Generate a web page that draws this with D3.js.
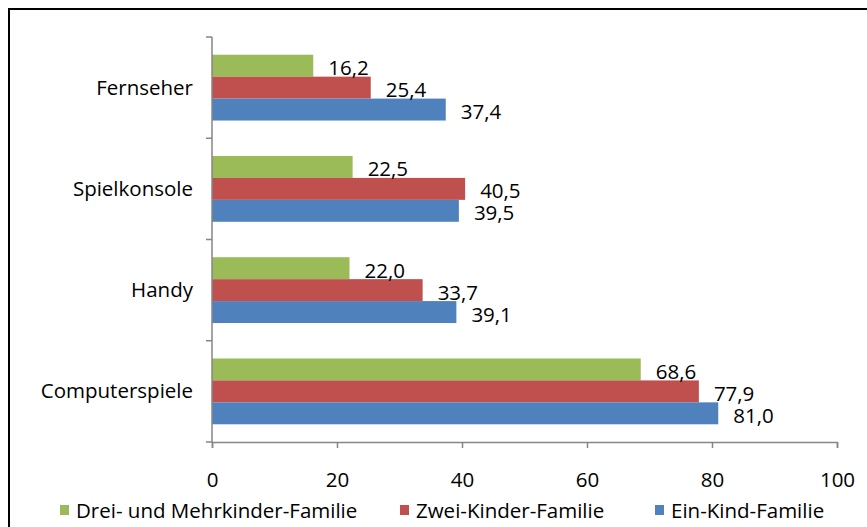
<!DOCTYPE html>
<html>
<head>
<meta charset="utf-8">
<script src="https://cdn.jsdelivr.net/npm/d3@7"></script>
<style>
  html, body { margin: 0; padding: 0; background: #fff; }
  svg { display: block; }
  text { font-family: "Open Sans", sans-serif; fill: #000; }
</style>
</head>
<body>
<svg id="chart" width="867" height="527"></svg>
<script>
// ---- data ----
const categories = ["Fernseher", "Spielkonsole", "Handy", "Computerspiele"];
const seriesNames = ["Drei- und Mehrkinder-Familie", "Zwei-Kinder-Familie", "Ein-Kind-Familie"];
const seriesColors = ["#9BBB59", "#C0504D", "#4F81BD"];
const dreiValues = [16.2, 22.5, 22.0, 68.6];
const zweiValues = [25.4, 40.5, 33.7, 77.9];
const einValues  = [37.4, 39.5, 39.1, 81.0];
const xTicks = [0, 20, 40, 60, 80, 100];

const seriesValues = [dreiValues, zweiValues, einValues];

const svg = d3.select("#chart");
const fontSize = 20.5;
const fontFam = "'Open Sans', sans-serif";

// frame
svg.append("rect")
  .attr("x", 9).attr("y", 9)
  .attr("width", 900).attr("height", 600)
  .attr("fill", "none").attr("stroke", "#000").attr("stroke-width", 2);

const x = d3.scaleLinear().domain([0, 100]).range([212, 837]);
const y = d3.scaleBand().domain(categories).range([37, 442]).paddingInner(0.35).paddingOuter(0.175);
const ySub = d3.scaleBand().domain(d3.range(seriesNames.length)).range([0, y.bandwidth()]);

// bars
const rows = [];
categories.forEach((c, ci) => {
  seriesValues.forEach((vals, si) => rows.push({ c, si, v: vals[ci] }));
});

svg.append("g").selectAll("rect")
  .data(rows).join("rect")
  .attr("x", x(0))
  .attr("y", d => y(d.c) + ySub(d.si))
  .attr("width", d => x(d.v) - x(0))
  .attr("height", ySub.bandwidth())
  .attr("fill", d => seriesColors[d.si]);

// value labels
const fmt = v => v.toFixed(1).replace(".", ",");
svg.append("g").selectAll("text")
  .data(rows).join("text")
  .attr("x", d => x(d.v) + 15)
  .attr("y", d => y(d.c) + ySub(d.si) + ySub.bandwidth() / 2 + 9.5)
  .attr("font-size", fontSize)
  .text(d => fmt(d.v));

// axes
const axisColor = "#868686";
const gx = svg.append("g").attr("transform", "translate(0,442)")
  .call(d3.axisBottom(x).tickValues(xTicks).tickSize(6).tickPadding(0).tickFormat(d3.format("d")));
gx.select(".domain").attr("stroke", axisColor).attr("stroke-width", 1.5);
gx.selectAll(".tick line").attr("stroke", axisColor).attr("stroke-width", 1.5);
gx.selectAll(".tick text").attr("font-size", fontSize).attr("font-family", fontFam)
  .attr("fill", "#000").attr("dy", null).attr("y", 45);

const yBound = d3.scaleLinear().domain([0, categories.length]).range([37, 442]);
const gy = svg.append("g").attr("transform", "translate(212,0)");
gy.append("line").attr("x1", 0).attr("x2", 0).attr("y1", 37).attr("y2", 442)
  .attr("stroke", axisColor).attr("stroke-width", 1.5);
gy.selectAll("line.tk").data(d3.range(categories.length + 1)).join("line")
  .attr("class", "tk")
  .attr("x1", -6).attr("x2", 0)
  .attr("y1", d => yBound(d)).attr("y2", d => yBound(d))
  .attr("stroke", axisColor).attr("stroke-width", 1.5);

svg.append("g").selectAll("text")
  .data(categories).join("text")
  .attr("x", 193)
  .attr("y", d => y(d) + y.bandwidth() / 2 + 7)
  .attr("text-anchor", "end")
  .attr("font-size", fontSize)
  .text(d => d);

// legend
const legendX = [60, 400, 655];
const lg = svg.append("g").selectAll("g")
  .data(seriesNames).join("g")
  .attr("transform", (d, i) => `translate(${legendX[i]},0)`);
lg.append("rect").attr("x", 0).attr("y", 505).attr("width", 9).attr("height", 10)
  .attr("fill", (d, i) => seriesColors[i]);
lg.append("text").attr("x", 16).attr("y", 518).attr("font-size", fontSize).text(d => d);
</script>
</body>
</html>
